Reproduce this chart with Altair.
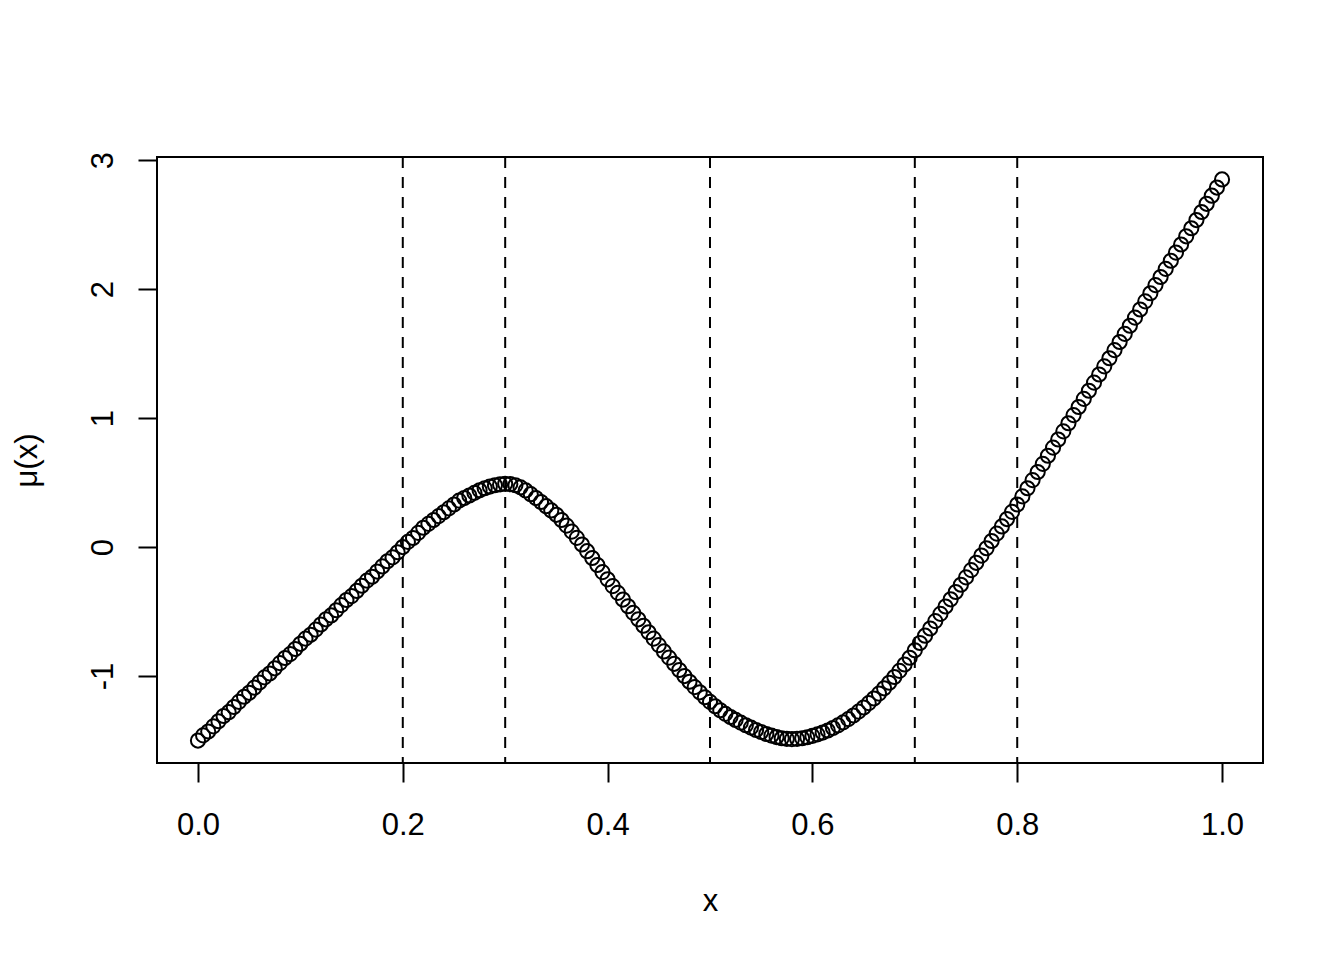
import altair as alt
import pandas as pd

# Sample spacing of the evaluation grid (x = 0, 0.005, ..., 1)
x_step = 0.005

# mu(x), one value per plotted circle
mu = [
    -1.50, -1.46, -1.43, -1.39, -1.35, -1.31, -1.28, -1.24, -1.20, -1.16,
    -1.13, -1.09, -1.05, -1.01, -0.98, -0.94, -0.90, -0.86, -0.83, -0.79,
    -0.75, -0.71, -0.68, -0.64, -0.60, -0.56, -0.53, -0.49, -0.45, -0.41,
    -0.38, -0.34, -0.30, -0.26, -0.23, -0.19, -0.15, -0.11, -0.08, -0.04,
    0.00,
    0.04, 0.07, 0.11, 0.15, 0.18,
    0.21, 0.24, 0.27, 0.30, 0.33,
    0.36, 0.38, 0.40, 0.42, 0.44,
    0.456, 0.469, 0.479, 0.486, 0.490,
    0.488, 0.479, 0.463, 0.439, 0.41,
    0.38, 0.349, 0.317, 0.284, 0.25,
    0.21, 0.166, 0.12, 0.071, 0.02,
    -0.032, -0.085, -0.139, -0.194, -0.25,
    -0.303, -0.355, -0.407, -0.459, -0.51,
    -0.56, -0.61, -0.66, -0.71, -0.76,
    -0.809, -0.857, -0.905, -0.953, -1.00,
    -1.044, -1.086, -1.126, -1.164, -1.20,
    -1.234, -1.265, -1.293, -1.318, -1.34,
    -1.361, -1.381, -1.40, -1.418, -1.434,
    -1.449, -1.462, -1.473, -1.482, -1.487,
    -1.489, -1.487, -1.482, -1.474, -1.464,
    -1.452, -1.438, -1.422, -1.403, -1.382,
    -1.359, -1.334, -1.306, -1.276, -1.244,
    -1.210, -1.174, -1.136, -1.095, -1.052,
    -1.007, -0.960, -0.910, -0.858, -0.80,
    -0.744, -0.687, -0.631, -0.574, -0.518,
    -0.461, -0.405, -0.348, -0.292, -0.235,
    -0.179, -0.122, -0.066, -0.009, 0.047,
    0.104, 0.16, 0.217, 0.273, 0.33,
    0.393, 0.456, 0.519, 0.582, 0.645, 0.708, 0.771, 0.834, 0.897, 0.96,
    1.023, 1.086, 1.149, 1.212, 1.275, 1.338, 1.401, 1.464, 1.527, 1.59,
    1.653, 1.716, 1.779, 1.842, 1.905, 1.968, 2.031, 2.094, 2.157, 2.22,
    2.283, 2.346, 2.409, 2.472, 2.535, 2.598, 2.661, 2.724, 2.787, 2.85,
]

# Vertical dashed reference lines
knots = [0.2, 0.3, 0.5, 0.7, 0.8]

# Axis ticks
x_ticks = [0.0, 0.2, 0.4, 0.6, 0.8, 1.0]
y_ticks = [-1, 0, 1, 2, 3]

x_domain = [-0.04, 1.04]
y_domain = [-1.674, 3.024]

points_df = pd.DataFrame({"x": [round(i * x_step, 4) for i in range(len(mu))], "mu": mu})
knots_df = pd.DataFrame({"k": knots})

FONT = "Liberation Sans"
FS = 31

x_scale = alt.Scale(domain=x_domain, nice=False, zero=False)
y_scale = alt.Scale(domain=y_domain, nice=False, zero=False)

x_axis = alt.Axis(
    values=x_ticks, format=".1f", title="x", grid=False, domain=False,
    tickSize=19, tickWidth=2, tickColor="black",
    labelFont=FONT, labelFontSize=FS, labelColor="black",
    labelBaseline="alphabetic", labelAlign="center", labelPadding=52,
    labelFlush=False, labelOverlap=False,
    titleFont=FONT, titleFontSize=FS, titleFontWeight="normal", titleColor="black",
    titleX=553, titleY=147, titleAlign="center", titleBaseline="alphabetic",
)

y_axis = alt.Axis(
    values=y_ticks, labelExpr="'' + datum.value", title="μ(x)", grid=False, domain=False,
    tickSize=19, tickWidth=2, tickColor="black",
    labelFont=FONT, labelFontSize=FS, labelColor="black",
    labelAngle=270, labelAlign="center", labelBaseline="alphabetic", labelPadding=26,
    labelFlush=False, labelOverlap=False,
    titleFont=FONT, titleFontSize=FS, titleFontWeight="normal", titleColor="black",
    titleAngle=270, titleX=-121, titleY=303, titleAlign="center", titleBaseline="alphabetic",
)

points = alt.Chart(points_df).mark_point(
    shape="circle", filled=False, color="black", size=200, strokeWidth=2, opacity=1
).encode(
    x=alt.X("x:Q", scale=x_scale, axis=x_axis),
    y=alt.Y("mu:Q", scale=y_scale, axis=y_axis),
)

rules = alt.Chart(knots_df).mark_rule(
    color="black", strokeDash=[11, 9], strokeWidth=2
).encode(
    x=alt.X("k:Q", scale=x_scale)
)

chart = alt.layer(rules, points).properties(
    width=1106, height=606,
    autosize=alt.AutoSizeParams(type="none"),
    padding={"left": 149, "top": 149, "right": 60, "bottom": 180},
    background="white",
).configure_view(
    stroke="black", strokeWidth=2
)

chart.save("out.html", embed_options={"renderer": "svg", "actions": False})
